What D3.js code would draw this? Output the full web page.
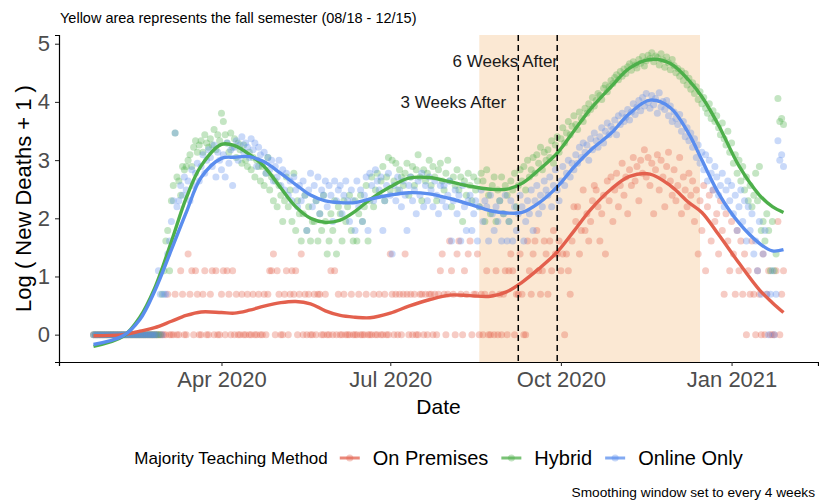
<!DOCTYPE html>
<html>
<head>
<meta charset="utf-8">
<script src="https://cdn.jsdelivr.net/npm/d3@7"></script>
<style>
body { margin: 0; background: #fff; }
svg { font-family: "Liberation Sans", Arial, Helvetica, sans-serif; }
</style>
</head>
<body>
<svg width="819" height="504"></svg>
<script>
// daily new deaths per group, first day 2020-01-23
var firstDay = "2020-01-23";

var premisesDeaths = [
  0,0,0,0,0,0,0, 0,0,0,0,0,0,0, 0,0,0,0,0,0,0, 0,0,0,0,0,0,0, 0,0,0,0,0,0,0,
  0,0,0,0,0,1,0, 0,0,1,0,0,2,1, 0,0,3,1,2,0,2, 1,0,0,1,2,0,0, 1,2,0,2,0,0,1,
  2,0,2,1,0,2,0, 1,0,0,1,0,0,1, 0,0,1,0,0,1,0, 0,1,0,1,2,2,3, 0,2,1,0,0,1,2,
  0,1,2,1,2,0,1, 3,0,1,0,1,0,0, 1,0,1,1,0,0,1, 0,0,2,0,2,0,1, 0,0,1,0,0,0,1,
  0,0,0,1,0,0,0, 1,0,0,0,1,0,0, 1,0,0,1,0,0,3, 1,0,1,0,1,0,1, 3,1,0,1,0,1,0,
  0,1,1,0,1,0,1, 1,0,1,0,1,2,3, 1,0,1,4,2,1,0, 3,4,1,0,2,1,3, 4,0,1,1,3,0,1,
  0,1,2,0,0,1,0, 2,0,1,0,1,2,0, 2,3,2,0,1,1,3, 1,0,0,4,2,1,3, 4,5,2,1,2,4,3,
  1,4,2,5,3,3,4, 2,3,0,3,2,1,4, 8,6,8,3,5,11,5, 7,4,6,9,12,11,8, 4,7,10,3,13,9,14,
  6,11,15,8,12,18,10, 14,7,16,12,20,13,17, 9,19,15,23,14,20,12, 18,7,16,21,11,19,14,
  8,17,22,13,10,16,9, 12,20,7,14,11,8,15, 10,13,6,11,3,9,5, 12,2,8,10,4,11,6,
  7,3,9,5,1,7,4, 2,6,3,1,5,2,4, 1,3,0,2,1,4,1, 0,2,1,0,3,0,1, 2,0,0,0,2,6,0, 1,2
];

var hybridDeaths = [
  0,0,0,0,0,0,0, 0,0,0,0,0,0,0, 0,0,0,0,0,0,0, 0,0,0,0,0,0,0, 0,0,0,0,0,0,0,
  0,0,1,2,4,5,2, 9,12,31,14,13,10,17, 16,17,19,21,17,24,27, 22,25,27,22,30,26,24, 28,25,33,23,30,27,44,
  38,30,26,22,31,24,28, 20,26,23,18,25,19,17, 22,16,20,14,19,17,13, 17,12,15,20,11,14,9, 13,8,12,10,6,9,14,
  8,11,6,15,5,9,7, 4,7,10,5,8,4,6, 6,9,4,7,5,10,6, 3,4,7,5,9,3,8, 7,4,9,6,8,10,5,
  4,9,4,7,10,6,8, 12,4,9,14,8,11,15, 10,13,17,9,14,20,11, 19,13,18,11,16,14,12, 15,18,10,14,17,12,16,
  21,14,9,16,13,15,19, 12,17,14,9,16,18,13, 11,15,19,13,8,14,12, 16,11,14,6,13,10,15, 12,9,14,11,13,8,15,
  13,6,16,10,7,12,14, 6,11,9,14,7,12,10, 6,13,11,15,8,12,16, 13,17,11,19,14,16,20, 15,21,18,24,16,22,19,
  23,20,27,18,25,29,22, 28,34,26,31,38,30,35, 42,36,33,45,40,38,48, 44,52,47,58,50,55,62, 60,56,68,72,64,70,78,
  74,82,86,79,91,84,95, 88,99,104,93,108,102,97, 112,105,118,100,110,121,114, 126,108,119,116,102,124,111,
  98,117,106,94,112,101,89, 96,84,92,78,88,72,81, 67,75,62,70,56,64,52, 58,48,44,52,40,46,38,
  42,34,30,37,28,25,32, 22,26,18,21,15,19,13, 17,11,14,9,12,8,10, 15,9,17,5,6,4,7, 5,2,6,2,3,57,38, 40,36
];

var onlineDeaths = [
  0,0,0,0,0,0,0, 0,0,0,0,0,0,0, 0,0,0,0,0,0,0, 0,0,0,0,0,0,0, 0,0,0,0,0,0,0,
  2,1,0,1,1,3,4, 6,9,31,8,9,12,10, 14,11,13,9,16,12,15, 18,13,17,21,15,19,23, 20,17,25,14,22,19,16,
  21,14,26,18,23,12,24, 27,19,25,29,22,26,24, 20,28,23,26,17,24,21, 18,22,15,20,16,19,13, 17,14,19,12,16,11,15,
  10,13,9,14,11,8,12, 9,13,10,5,11,15,8, 12,9,14,7,11,10,13, 8,12,10,6,13,9,11, 12,7,10,13,9,6,11,
  9,5,13,8,11,6,10, 14,5,15,12,9,16,13, 11,14,5,9,12,15,10, 3,12,9,14,11,8,13, 10,5,12,14,9,11,7,
  13,10,15,8,12,9,14, 11,8,13,10,7,12,9, 12,8,10,13,4,9,11, 7,10,4,12,8,5,9, 10,5,7,9,4,8,11,
  6,9,8,4,10,7,5, 8,6,9,4,7,10,4, 6,9,4,8,5,7,10, 8,4,6,9,7,11,5, 9,12,7,10,8,13,11,
  10,14,8,12,16,11,9, 13,17,12,15,19,14,18, 16,21,18,24,20,26,22, 25,19,28,23,31,27,24, 29,34,26,32,37,30,35,
  33,39,30,42,36,44,38, 41,47,39,45,52,43,49, 55,46,58,50,62,53,48, 60,51,57,44,63,49,54,
  47,55,42,50,38,45,40, 36,43,32,38,29,34,27, 31,24,28,20,25,18,22, 16,21,13,19,15,11,17,
  14,10,12,15,8,11,13, 9,12,7,10,5,8,11, 6,9,4,8,5,7,3, 4,2,6,1,3,5,1, 0,1,2,0,1,27,19, 21,17
];

// smoothed curves (4 week window)
var smoothDates = ["2020-01-23","2020-02-08","2020-02-17","2020-02-25","2020-03-05","2020-03-13","2020-03-21",
  "2020-04-01","2020-04-08","2020-04-16","2020-04-24","2020-05-03","2020-05-11","2020-05-19","2020-05-27",
  "2020-06-04","2020-06-12","2020-06-20","2020-07-01","2020-07-11","2020-07-22","2020-08-02","2020-08-13",
  "2020-08-24","2020-09-02","2020-09-10","2020-09-19","2020-09-29","2020-10-08","2020-10-17","2020-10-28",
  "2020-11-07","2020-11-18","2020-11-29","2020-12-09","2020-12-16","2020-12-25","2021-01-05","2021-01-16",
  "2021-01-23","2021-01-29"];
var premisesSmooth = [-0.02,0,0.06,0.12,0.23,0.33,0.39, 0.38,0.37,0.42,0.49,0.55,0.57,0.53,0.41,
  0.33,0.3,0.29,0.37,0.49,0.6,0.68,0.67, 0.66,0.74,0.9,1.13,1.42,1.78,2.15,2.5,
  2.72,2.76,2.56,2.27,2.1,1.72,1.23,0.77, 0.55,0.38];
var hybridSmooth = [-0.2,-0.03,0.3,0.8,1.6,2.35,2.9, 3.27,3.25,3.1,2.89,2.52,2.2,2.0,1.93,
  1.97,2.12,2.32,2.54,2.69,2.7,2.63,2.55, 2.5,2.5,2.6,2.83,3.12,3.5,3.88,4.26,
  4.58,4.73,4.66,4.37,4.09,3.6,2.9,2.4, 2.2,2.1];
var onlineSmooth = [-0.17,-0.02,0.26,0.75,1.46,2.1,2.7, 3.03,3.05,3.06,2.97,2.77,2.58,2.4,2.3,
  2.27,2.27,2.33,2.4,2.44,2.42,2.34,2.24, 2.13,2.09,2.1,2.26,2.54,2.88,3.17,3.46,
  3.8,4.03,3.9,3.45,3.0,2.43,1.92,1.57, 1.44,1.46];

var methods = ["On Premises", "Hybrid", "Online Only"];
var colors = ["#E3604D", "#4DAF4A", "#5A8DEE"];
var semester = ["2020-08-18", "2020-12-15"];
var markerDates = ["2020-09-08", "2020-09-29"];
var markerLabels = ["3 Weeks After", "6 Weeks After"];
var labelDates = ["2020-08-04", "2020-09-01"];
var labelValues = [4.0, 4.7];
var xTicks = ["2020-04-01", "2020-07-01", "2020-10-01", "2021-01-01"];
var yTicks = [0, 1, 2, 3, 4, 5];

var svg = d3.select("svg"),
    parse = d3.utcParse("%Y-%m-%d"),
    panelLeft = 59, panelRight = 818, panelTop = 35, panelBottom = 362;

var start = parse(firstDay),
    end = d3.utcDay.offset(start, premisesDeaths.length - 1),
    pad = (end - start) * 0.05;

var x = d3.scaleUtc()
    .domain([new Date(+start - pad), new Date(+end + pad)])
    .range([panelLeft, panelRight]);
var y = d3.scaleLinear().domain([-0.47, 5.15]).range([panelBottom, panelTop]);

// fall semester band
svg.append("rect")
    .attr("x", x(parse(semester[0])))
    .attr("y", panelTop)
    .attr("width", x(parse(semester[1])) - x(parse(semester[0])))
    .attr("height", panelBottom - panelTop)
    .attr("fill", "#FBE8D3");

// points
var series = [premisesDeaths, hybridDeaths, onlineDeaths];
series.forEach(function(vals, i) {
  svg.append("g")
      .attr("fill", colors[i])
      .attr("fill-opacity", 0.33)
    .selectAll("circle")
    .data(vals)
    .enter().append("circle")
      .attr("cx", function(d, k) { return x(d3.utcDay.offset(start, k)); })
      .attr("cy", function(d) { return y(Math.log(d + 1)); })
      .attr("r", 3.5);
});

// smooth lines
var line = d3.line()
    .x(function(d) { return x(d[0]); })
    .y(function(d) { return y(d[1]); })
    .curve(d3.curveCatmullRom.alpha(0.5));
[premisesSmooth, hybridSmooth, onlineSmooth].forEach(function(vals, i) {
  svg.append("path")
      .datum(vals.map(function(v, k) { return [parse(smoothDates[k]), v]; }))
      .attr("fill", "none")
      .attr("stroke", colors[i])
      .attr("stroke-width", 3.4)
      .attr("d", line);
});

// 3 and 6 weeks markers
markerDates.forEach(function(d) {
  svg.append("line")
      .attr("x1", x(parse(d))).attr("x2", x(parse(d)))
      .attr("y1", panelTop).attr("y2", panelBottom)
      .attr("stroke", "#000")
      .attr("stroke-width", 1.5)
      .attr("stroke-dasharray", "6,4");
});
markerLabels.forEach(function(t, i) {
  svg.append("text")
      .attr("x", x(parse(labelDates[i])))
      .attr("y", y(labelValues[i]))
      .attr("dy", "0.35em")
      .attr("text-anchor", "middle")
      .attr("font-size", 17)
      .attr("fill", "#1a1a1a")
      .text(t);
});

// axes
var fmt = d3.utcFormat("%b %Y");
var xAxis = svg.append("g")
    .attr("transform", "translate(0," + panelBottom + ")")
    .call(d3.axisBottom(x).tickValues(xTicks.map(parse)).tickFormat(fmt).tickSizeOuter(0).tickSize(4).tickPadding(5));
var yAxis = svg.append("g")
    .attr("transform", "translate(" + panelLeft + ",0)")
    .call(d3.axisLeft(y).tickValues(yTicks).tickFormat(d3.format("d")).tickSizeOuter(0).tickSize(4).tickPadding(5));
[xAxis, yAxis].forEach(function(a) {
  a.select(".domain").attr("stroke", "#000").attr("stroke-width", 1.2);
  a.selectAll(".tick line").attr("stroke", "#333").attr("stroke-width", 1.1);
  a.selectAll(".tick text").attr("fill", "#4D4D4D").attr("font-size", 22)
      .attr("font-family", "Liberation Sans, Arial, sans-serif");
});

svg.append("text")
    .attr("x", (panelLeft + panelRight) / 2)
    .attr("y", 414)
    .attr("text-anchor", "middle")
    .attr("font-size", 21)
    .text("Date");
svg.append("text")
    .attr("transform", "translate(31," + (panelTop + panelBottom) / 2 + ") rotate(-90)")
    .attr("text-anchor", "middle")
    .attr("font-size", 22)
    .text("Log ( New Deaths + 1 )");

svg.append("text")
    .attr("x", 60)
    .attr("y", 23)
    .attr("font-size", 14.5)
    .text("Yellow area represents the fall semester (08/18 - 12/15)");
svg.append("text")
    .attr("x", 815)
    .attr("y", 497)
    .attr("text-anchor", "end")
    .attr("font-size", 13.7)
    .text("Smoothing window set to every 4 weeks");

// legend
var legend = svg.append("g");
var ly = 458, lx = 0;
var title = legend.append("text")
    .attr("x", lx).attr("y", ly).attr("dy", "0.35em")
    .attr("font-size", 17)
    .text("Majority Teaching Method");
lx += title.node().getComputedTextLength() + 12;
methods.forEach(function(m, i) {
  legend.append("line")
      .attr("x1", lx).attr("x2", lx + 20)
      .attr("y1", ly).attr("y2", ly)
      .attr("stroke", colors[i])
      .attr("stroke-opacity", 0.75)
      .attr("stroke-width", 3);
  legend.append("circle")
      .attr("cx", lx + 10).attr("cy", ly).attr("r", 3.5)
      .attr("fill", colors[i]).attr("fill-opacity", 0.35);
  lx += 33;
  var t = legend.append("text")
      .attr("x", lx).attr("y", ly).attr("dy", "0.35em")
      .attr("font-size", 20)
      .text(m);
  lx += t.node().getComputedTextLength() + 13;
});
lx -= 13;
legend.attr("transform", "translate(" + ((panelLeft + panelRight) / 2 - lx / 2) + ",0)");
</script>
</body>
</html>
